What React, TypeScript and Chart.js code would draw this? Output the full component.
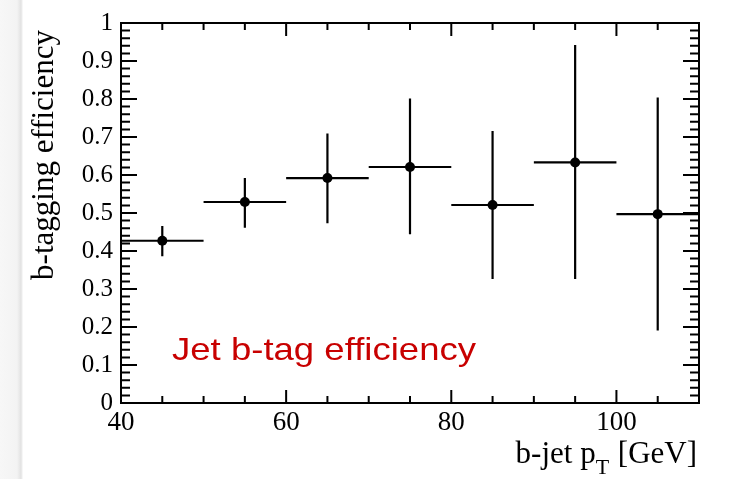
import React, { useEffect, useRef } from 'react';
import { Chart, registerables } from 'chart.js';

Chart.register(...registerables);

// ---- data ----
const binCenters = [45, 55, 65, 75, 85, 95, 105];
const binHalfWidths = [5, 5, 5, 5, 5, 5, 5];
const efficiency = [0.427, 0.529, 0.592, 0.621, 0.521, 0.633, 0.497];
const errUp = [0.039, 0.063, 0.117, 0.18, 0.195, 0.309, 0.307];
const errDown = [0.041, 0.068, 0.119, 0.177, 0.195, 0.307, 0.306];
const xTickLabels = [40, 60, 80, 100];
const xMinorTicks = [45, 50, 55, 65, 70, 75, 85, 90, 95, 105];
const yTickValues = [0, 0.1, 0.2, 0.3, 0.4, 0.5, 0.6, 0.7, 0.8, 0.9, 1];
const xTitle = 'b-jet p';
const xTitleSub = 'T';
const xTitleUnit = ' [GeV]';
const yTitle = 'b-tagging efficiency';
const annotation = 'Jet b-tag efficiency';

const SERIF = "'Liberation Serif', 'Times New Roman', serif";
const SANS = "'Liberation Sans', Arial, sans-serif";

const framePlugin = {
  id: 'rootFrame',
  beforeDatasetsDraw(chart: any) {
    const { ctx } = chart;
    const xs = chart.scales.x;
    const ys = chart.scales.y;
    ctx.save();
    ctx.strokeStyle = '#000';
    ctx.lineWidth = 2.2;
    ctx.lineCap = 'butt';
    for (let i = 0; i < binCenters.length; i++) {
      const cx = xs.getPixelForValue(binCenters[i]);
      const cy = ys.getPixelForValue(efficiency[i]);
      const x0 = xs.getPixelForValue(binCenters[i] - binHalfWidths[i]);
      const x1 = xs.getPixelForValue(binCenters[i] + binHalfWidths[i]);
      const yTop = ys.getPixelForValue(efficiency[i] + errUp[i]);
      const yBot = ys.getPixelForValue(efficiency[i] - errDown[i]);
      ctx.beginPath();
      ctx.moveTo(x0, cy);
      ctx.lineTo(x1, cy);
      ctx.moveTo(cx, yTop);
      ctx.lineTo(cx, yBot);
      ctx.stroke();
    }
    ctx.restore();
  },
  afterDraw(chart: any) {
    const { ctx, chartArea } = chart;
    const { left, right, top, bottom } = chartArea;
    const xs = chart.scales.x;
    const ys = chart.scales.y;
    ctx.save();
    ctx.strokeStyle = '#000';
    ctx.lineWidth = 2;
    ctx.strokeRect(left, top, right - left, bottom - top);

    // x ticks (inward, bottom and top)
    ctx.beginPath();
    const xMajor = 13;
    const xMinor = 7;
    xTickLabels.forEach((v) => {
      const px = xs.getPixelForValue(v);
      ctx.moveTo(px, bottom);
      ctx.lineTo(px, bottom - xMajor);
      ctx.moveTo(px, top);
      ctx.lineTo(px, top + xMajor);
    });
    xMinorTicks.forEach((v) => {
      const px = xs.getPixelForValue(v);
      ctx.moveTo(px, bottom);
      ctx.lineTo(px, bottom - xMinor);
      ctx.moveTo(px, top);
      ctx.lineTo(px, top + xMinor);
    });
    // y ticks (inward, left and right)
    const yMajor = 16;
    const yMinor = 9;
    for (let k = 0; k <= 50; k++) {
      const v = k / 50;
      const py = ys.getPixelForValue(v);
      const len = k % 5 === 0 ? yMajor : yMinor;
      ctx.moveTo(left, py);
      ctx.lineTo(left + len, py);
      ctx.moveTo(right, py);
      ctx.lineTo(right - len, py);
    }
    ctx.stroke();

    // x axis title (right aligned)
    ctx.fillStyle = '#000';
    ctx.textBaseline = 'alphabetic';
    ctx.textAlign = 'left';
    const mainFont = `31px ${SERIF}`;
    const subFont = `22px ${SERIF}`;
    ctx.font = mainFont;
    const w1 = ctx.measureText(xTitle).width;
    const w3 = ctx.measureText(xTitleUnit).width;
    ctx.font = subFont;
    const w2 = ctx.measureText(xTitleSub).width;
    const endX = 697;
    const baseY = 463;
    let sx = endX - (w1 + w2 + 1 + w3);
    ctx.font = mainFont;
    ctx.fillText(xTitle, sx, baseY);
    sx += w1;
    ctx.font = subFont;
    ctx.fillText(xTitleSub, sx, baseY + 11);
    sx += w2 + 1;
    ctx.font = mainFont;
    ctx.fillText(xTitleUnit, sx, baseY);

    // y axis title (rotated, aligned to top)
    ctx.save();
    ctx.translate(53, 30);
    ctx.rotate(-Math.PI / 2);
    ctx.textAlign = 'right';
    ctx.font = mainFont;
    ctx.fillText(yTitle, 0, 0);
    ctx.restore();

    // red annotation (slightly wide, as in the reference)
    ctx.save();
    ctx.fillStyle = '#c80000';
    ctx.font = `32px ${SANS}`;
    ctx.textAlign = 'left';
    ctx.translate(172, 360);
    const aw = ctx.measureText(annotation).width;
    ctx.scale(304 / aw, 1);
    ctx.fillText(annotation, 0, 0);
    ctx.restore();
    ctx.restore();
  },
};

export default function App() {
  const canvasRef = useRef<HTMLCanvasElement | null>(null);

  useEffect(() => {
    const canvas = canvasRef.current;
    if (!canvas) return;
    const chart = new Chart(canvas, {
      type: 'scatter',
      data: {
        datasets: [
          {
            data: binCenters.map((x, i) => ({ x, y: efficiency[i] })),
            pointRadius: 5,
            pointHoverRadius: 5,
            pointBackgroundColor: '#000',
            pointBorderWidth: 0,
            borderColor: '#000',
            showLine: false,
          },
        ],
      },
      options: {
        animation: false,
        responsive: false,
        devicePixelRatio: 1,
        layout: { padding: { top: 21, right: 31, left: 0, bottom: 0 } },
        plugins: {
          legend: { display: false },
          tooltip: { enabled: false },
          title: { display: false },
        },
        scales: {
          x: {
            type: 'linear',
            min: 40,
            max: 110,
            grid: { display: false, drawTicks: false },
            border: { display: false },
            afterBuildTicks: (s: any) => {
              s.ticks = xTickLabels.map((v) => ({ value: v }));
            },
            afterFit: (s: any) => {
              s.height = 76;
            },
            ticks: {
              padding: 4,
              maxRotation: 0,
              autoSkip: false,
              color: '#000',
              font: { family: SERIF, size: 27 },
              callback: (v: any) => String(v),
            },
          },
          y: {
            type: 'linear',
            min: 0,
            max: 1,
            grid: { display: false, drawTicks: false },
            border: { display: false },
            afterBuildTicks: (s: any) => {
              s.ticks = yTickValues.map((v) => ({ value: v }));
            },
            afterFit: (s: any) => {
              s.width = 121;
            },
            ticks: {
              padding: 8,
              autoSkip: false,
              color: '#000',
              font: { family: SERIF, size: 25 },
              callback: (v: any) => String(Number(Number(v).toFixed(1))),
            },
          },
        },
      },
      plugins: [framePlugin],
    });
    return () => chart.destroy();
  }, []);

  return (
    <div style={{ position: 'fixed', left: 0, top: 0, width: 730, height: 479, background: '#fff' }}>
      <div
        style={{
          position: 'absolute',
          left: 0,
          top: 0,
          width: 23,
          height: 479,
          background: 'linear-gradient(to right, #f7f7f7 0px, #f3f3f3 17px, #e2e2e2 21px, #fdfdfd 23px)',
        }}
      />
      <canvas
        ref={canvasRef}
        width={730}
        height={479}
        style={{ position: 'absolute', left: 0, top: 0, width: 730, height: 479 }}
      />
    </div>
  );
}
